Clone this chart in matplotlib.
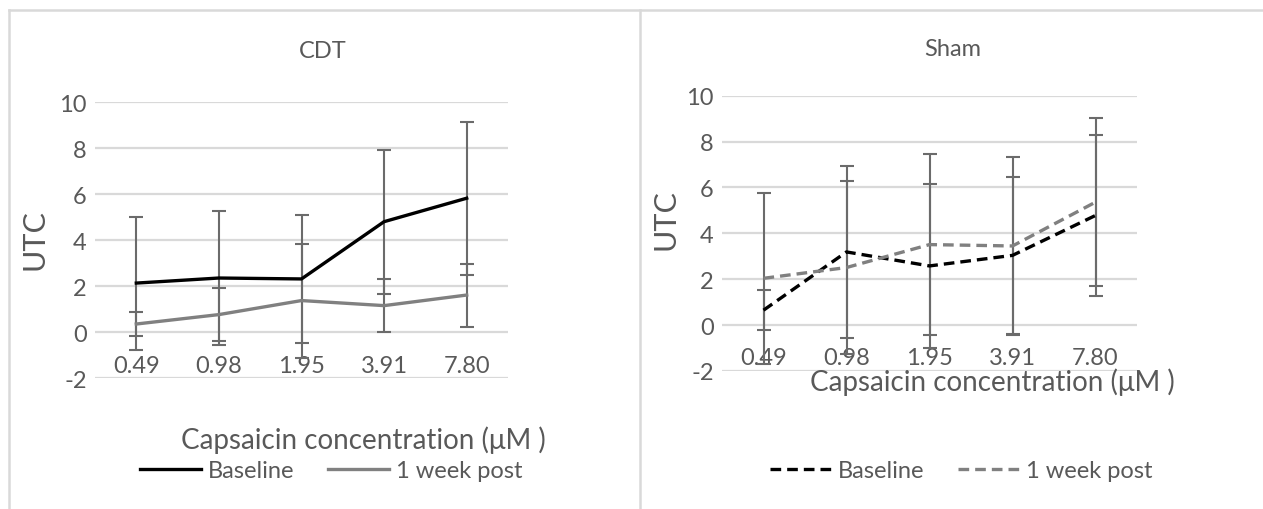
import matplotlib
matplotlib.use("Agg")
import matplotlib.pyplot as plt
from matplotlib.lines import Line2D

plt.rcParams['font.family'] = ['Lato', 'DejaVu Sans']

categories = ["0.49", "0.98", "1.95", "3.91", "7.80"]

cdt_baseline = [2.14, 2.36, 2.32, 4.81, 5.83]
cdt_baseline_err = [2.89, 2.93, 2.78, 3.13, 3.33]
cdt_post = [0.36, 0.77, 1.38, 1.16, 1.62]
cdt_post_err = [0.51, 1.14, 2.48, 1.16, 1.37]

sham_baseline = [0.65, 3.19, 2.58, 3.04, 4.78]
sham_baseline_err = [0.86, 3.74, 3.58, 3.41, 3.50]
sham_post = [2.04, 2.51, 3.51, 3.45, 5.36]
sham_post_err = [3.73, 3.79, 3.95, 3.88, 3.67]

yticks = [-2, 0, 2, 4, 6, 8, 10]

W, H = 1263, 510
fig = plt.figure(figsize=(W / 100, H / 100), dpi=100)

TXT = '#595959'
GRID = '#d9d9d9'
ERR = '#6b6b6b'


def px_axes(x0, x1, ytop, ybot):
    return fig.add_axes([x0 / W, 1 - ybot / H, (x1 - x0) / W, (ybot - ytop) / H])


def style(ax):
    ax.set_xlim(-0.5, len(categories) - 0.5)
    ax.set_ylim(-2, 10)
    ax.set_yticks(yticks)
    ax.set_yticklabels([str(t) for t in yticks], fontsize=17, color=TXT)
    ax.yaxis.grid(True, color=GRID, lw=1.6)
    ax.set_axisbelow(True)
    for s in ax.spines.values():
        s.set_visible(False)
    ax.spines['bottom'].set_position(('data', 0))
    ax.set_xticks(range(len(categories)))
    ax.set_xticklabels(categories, fontsize=17, color=TXT)
    ax.tick_params(axis='both', length=0)
    ax.tick_params(axis='x', pad=16)
    ax.tick_params(axis='y', pad=6)


x = list(range(len(categories)))

# Left panel: CDT
ax1 = px_axes(95, 508, 103.3, 379.3)
style(ax1)
ax1.errorbar(x, cdt_baseline, yerr=cdt_baseline_err, fmt='none', ecolor=ERR,
             elinewidth=1.5, capsize=5, capthick=1.5, zorder=2)
ax1.errorbar(x, cdt_post, yerr=cdt_post_err, fmt='none', ecolor=ERR,
             elinewidth=1.5, capsize=5, capthick=1.5, zorder=2)
l1, = ax1.plot(x, cdt_baseline, color='black', lw=2.4, zorder=3, label='Baseline')
l2, = ax1.plot(x, cdt_post, color='#808080', lw=2.4, zorder=3, label='1 week post')

# Right panel: Sham
ax2 = px_axes(722, 1137, 96.7, 372)
style(ax2)
ax2.errorbar(x, sham_baseline, yerr=sham_baseline_err, fmt='none', ecolor=ERR,
             elinewidth=1.5, capsize=5, capthick=1.5, zorder=2)
ax2.errorbar(x, sham_post, yerr=sham_post_err, fmt='none', ecolor=ERR,
             elinewidth=1.5, capsize=5, capthick=1.5, zorder=2)
l3, = ax2.plot(x, sham_baseline, color='black', lw=2.4, dashes=(3.2, 1.8), zorder=3, label='Baseline')
l4, = ax2.plot(x, sham_post, color='#808080', lw=2.4, dashes=(3.2, 1.8), zorder=3, label='1 week post')

# Titles / labels
fig.text(323 / W, 1 - 52 / H, 'CDT', ha='center', va='center', fontsize=17, color=TXT)
fig.text(953 / W, 1 - 50 / H, 'Sham', ha='center', va='center', fontsize=17, color=TXT)
fig.text(35 / W, 1 - 240 / H, 'UTC', ha='center', va='center', rotation=90, fontsize=22, color=TXT)
fig.text(665 / W, 1 - 220 / H, 'UTC', ha='center', va='center', rotation=90, fontsize=22, color=TXT)
fig.text(363 / W, 1 - 440 / H, 'Capsaicin concentration (μM )', ha='center', va='center', fontsize=20, color=TXT)
fig.text(992 / W, 1 - 382 / H, 'Capsaicin concentration (μM )', ha='center', va='center', fontsize=20, color=TXT)

leg_kw = dict(loc='center', ncol=2, frameon=False, fontsize=17, handlelength=2.6,
              handletextpad=0.3, columnspacing=1.4, labelcolor=TXT)
fig.legend(handles=[l1, l2], bbox_to_anchor=(331 / W, 1 - 472 / H), **leg_kw)
fig.legend(handles=[l3, l4], bbox_to_anchor=(961 / W, 1 - 472 / H), **leg_kw)

# Panel borders
bc = '#d9d9d9'
fig.add_artist(Line2D([9 / W, 9 / W], [0, 1 - 11 / H], color=bc, lw=1.8))
fig.add_artist(Line2D([9 / W, 1], [1 - 11 / H, 1 - 11 / H], color=bc, lw=1.8))
fig.add_artist(Line2D([640 / W, 640 / W], [0, 1 - 11 / H], color=bc, lw=1.8))

fig.savefig('out.png', dpi=100)
